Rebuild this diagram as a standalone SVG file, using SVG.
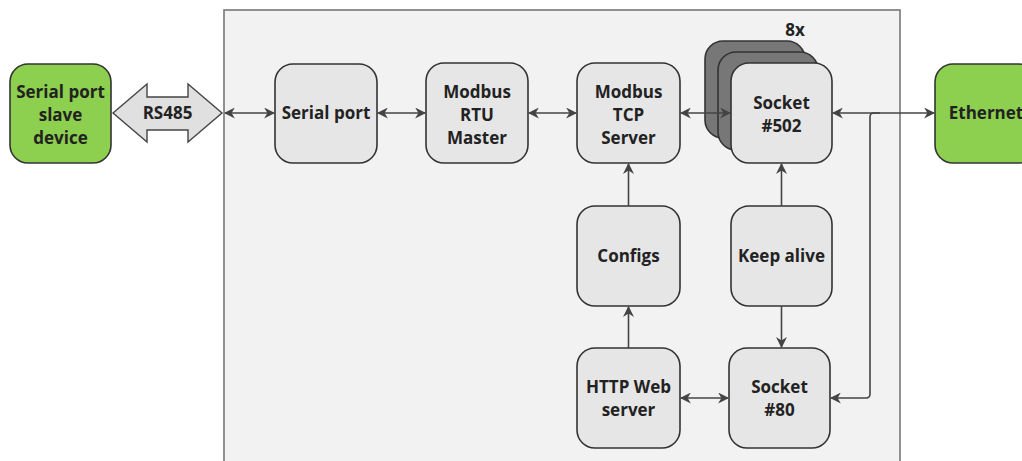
<svg xmlns="http://www.w3.org/2000/svg" width="1022" height="461" viewBox="0 0 1022 461">
<style>
.node{fill:#e6e6e6;stroke:#333;stroke-width:1.6}
.green{fill:#8dcf4e;stroke:#333;stroke-width:1.6}
.back{fill:#777;stroke:#333;stroke-width:1.6}
.t{font-family:"Open Sans","DejaVu Sans",sans-serif;font-weight:bold;font-size:17px;fill:#222;text-anchor:middle}
.c{fill:none;stroke:#444;stroke-width:1.6}
</style>
<defs>
<marker id="ah" viewBox="0 0 10 10" refX="9" refY="5" markerWidth="11" markerHeight="11" markerUnits="userSpaceOnUse" orient="auto-start-reverse">
<path d="M0,0 L10,5 L0,10 L3,5 Z" fill="#444"/>
</marker>
</defs>
<rect width="1022" height="461" fill="#fff"/>
<rect id="container" x="224" y="10" width="676" height="470" fill="#f2f2f2" stroke="#777" stroke-width="1.6"/>
<g id="slave">
<rect class="green" x="10" y="64" width="101" height="99" rx="18"/>
<text class="t" x="60.5" y="98">Serial port</text>
<text class="t" x="60.5" y="121">slave</text>
<text class="t" x="60.5" y="144">device</text>
</g>
<g id="rs485">
<path d="M113,113 L147,84 L147,97 L188,97 L188,84 L222,113 L188,142 L188,130 L147,130 L147,142 Z" fill="#e0e0e0" stroke="#444" stroke-width="1.4"/>
<text class="t" x="167.5" y="119">RS485</text>
</g>
<g id="serialport">
<rect class="node" x="275" y="64" width="102" height="99" rx="18"/>
<text class="t" x="326" y="119">Serial port</text>
</g>
<g id="rtu">
<rect class="node" x="426" y="63" width="102" height="100" rx="18"/>
<text class="t" x="477" y="98">Modbus</text>
<text class="t" x="477" y="121">RTU</text>
<text class="t" x="477" y="144">Master</text>
</g>
<g id="tcp">
<rect class="node" x="577" y="63" width="103" height="100" rx="18"/>
<text class="t" x="628.5" y="98">Modbus</text>
<text class="t" x="628.5" y="121">TCP</text>
<text class="t" x="628.5" y="144">Server</text>
</g>
<g id="socket502">
<rect class="back" x="705" y="41" width="100" height="97" rx="18"/>
<rect class="back" x="718" y="52" width="100" height="98" rx="18"/>
<rect class="node" x="731" y="63" width="101" height="100" rx="18"/>
<text class="t" x="781.5" y="109">Socket</text>
<text class="t" x="781.5" y="132">#502</text>
<text class="t" x="795" y="36">8x</text>
</g>
<g id="ethernet">
<rect class="green" x="935" y="64" width="102" height="99" rx="18"/>
<text class="t" x="986" y="119">Ethernet</text>
</g>
<g id="configs">
<rect class="node" x="577" y="206" width="103" height="100" rx="18"/>
<text class="t" x="628.5" y="262">Configs</text>
</g>
<g id="keepalive">
<rect class="node" x="731" y="206" width="101" height="100" rx="18"/>
<text class="t" x="781.5" y="262">Keep alive</text>
</g>
<g id="http">
<rect class="node" x="577" y="348" width="103" height="100" rx="18"/>
<text class="t" x="628.5" y="393">HTTP Web</text>
<text class="t" x="628.5" y="416">server</text>
</g>
<g id="socket80">
<rect class="node" x="729" y="348" width="101" height="100" rx="18"/>
<text class="t" x="779.5" y="393">Socket</text>
<text class="t" x="779.5" y="416">#80</text>
</g>
<g id="connectors">
<line class="c" x1="225" y1="113" x2="274" y2="113" marker-start="url(#ah)" marker-end="url(#ah)"/>
<line class="c" x1="378" y1="113" x2="425" y2="113" marker-start="url(#ah)" marker-end="url(#ah)"/>
<line class="c" x1="529" y1="113" x2="576" y2="113" marker-start="url(#ah)" marker-end="url(#ah)"/>
<line class="c" x1="681" y1="113" x2="730" y2="113" marker-start="url(#ah)" marker-end="url(#ah)"/>
<line class="c" x1="833" y1="113" x2="934" y2="113" marker-start="url(#ah)" marker-end="url(#ah)"/>
<path class="c" d="M880,113 L874,113 Q870,113 870,117 L870,394 Q870,398 866,398 L831,398" marker-end="url(#ah)"/>
<line class="c" x1="628.5" y1="206" x2="628.5" y2="164" marker-end="url(#ah)"/>
<line class="c" x1="781.5" y1="206" x2="781.5" y2="164" marker-end="url(#ah)"/>
<line class="c" x1="628.5" y1="348" x2="628.5" y2="307" marker-end="url(#ah)"/>
<line class="c" x1="781.5" y1="306" x2="781.5" y2="347" marker-end="url(#ah)"/>
<line class="c" x1="681" y1="398" x2="728" y2="398" marker-start="url(#ah)" marker-end="url(#ah)"/>
</g>
</svg>
